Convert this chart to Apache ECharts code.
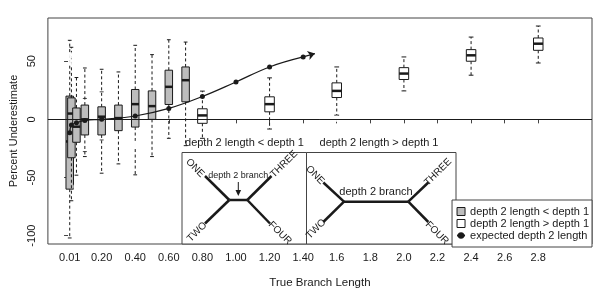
<!DOCTYPE html>
<html><head><meta charset="utf-8">
<script src="https://cdn.jsdelivr.net/npm/echarts@6/dist/echarts.min.js"></script>
<style>html,body{margin:0;padding:0;background:#fff}#c{width:600px;height:300px}</style>
</head><body><div id="c"></div>
<script>
// ---- axis ticks / labels ----
const xTickValues = [0.01,0.02,0.05,0.1,0.2,0.4,0.6,0.8,1.0,1.2,1.4,1.6,1.8,2.0,2.2,2.4,2.6,2.8];
const xLabelValues = [0.01,0.2,0.4,0.6,0.8,1.0,1.2,1.4,1.6,1.8,2.0,2.2,2.4,2.6,2.8];
const xLabelTexts = ["0.01","0.20","0.40","0.60","0.80","1.00","1.20","1.40","1.6","1.8","2.0","2.2","2.4","2.6","2.8"];
const yTickValues = [-100,-50,0,50];

// ---- gray boxes: depth 2 length < depth 1 ----
const grayX    = [0.01, 0.02, 0.05, 0.1, 0.2, 0.3, 0.4, 0.5, 0.6, 0.7];
const grayLow  = [-102, -70, -48, -32, -46.3, -38.3, -47.7, -32, -16.3, -22.6];
const grayQ1   = [-60, -33, -19.7, -13.4, -13.4, -9.7, -6.6, 0, 12.8, 15.1];
const grayMed  = [-19, 5, -6.3, 0, 2.3, 1.1, 13.1, 11.4, 28, 33.7];
const grayQ3   = [20, 18.5, 9.8, 12.3, 10.8, 12.3, 25.7, 24.5, 42.3, 45.1];
const grayHigh = [68, 62, 36, 44.2, 43.1, 40.8, 63.7, 55.7, 68.5, 66.5];
const grayOutX = [0.02, 0.02, 0.05, 0.05, 0.05, 0.2, 0.3, 0.4, 0.4, 0.4, 0.5, 0.5, 0.5, 0.6, 0.6, 0.6, 0.7];
const grayOutY = [55, 49, 43, -58, -65, 49.4, 47.1, -21.2, -22.6, -68.6, -37.7, -44, -45.7, -36.3, -43.4, -44.5, -56.9];
const extraCapX = [0.1, 0.1, 0.2, 0.2];
const extraCapY = [18, -27.7, 23.7, -17.7];

// ---- white boxes: depth 2 length > depth 1 ----
const whiteX    = [0.8, 1.2, 1.6, 2.0, 2.4, 2.8];
const whiteLow  = [-16.3, -8.3, 3.6, 24.5, 38, 48.5];
const whiteQ1   = [-3.4, 6.5, 18.8, 34.3, 50, 59.4];
const whiteMed  = [3.4, 13.1, 24.5, 39.4, 55.1, 65.1];
const whiteQ3   = [9.1, 19.4, 31.4, 44.5, 60, 70];
const whiteHigh = [24.3, 35.7, 45.1, 53.7, 70.8, 80.3];
const whiteOutX = [0.8, 1.6, 2.0, 2.0, 2.4];
const whiteOutY = [-24, 0.5, 20, 14.3, 75.7];

// ---- expected depth 2 length ----
const expX = [0.01, 0.02, 0.05, 0.1, 0.2, 0.4, 0.6, 0.8, 1.0, 1.2, 1.4];
const expY = [-11.4, -4.9, -2.9, -0.9, 0, 2.9, 9.4, 19.7, 32.2, 45.1, 53.7];
const expArrowEnd = [1.47, 56.6];

const FONT = 'Liberation Sans';
const INK = '#1a1a1a';
const AXC = '#444';

function boxRenderer(width, fill) {
  return function (params, api) {
    const x = api.value(0);
    const pLo = api.coord([x, api.value(1)]);
    const pQ1 = api.coord([x, api.value(2)]);
    const pMed = api.coord([x, api.value(3)]);
    const pQ3 = api.coord([x, api.value(4)]);
    const pHi = api.coord([x, api.value(5)]);
    const cx = pMed[0], hw = width / 2, cw = width / 4;
    const dashed = {stroke: INK, lineWidth: 1, lineDash: [3, 2.5]};
    const solid = {stroke: INK, lineWidth: 1};
    return {type: 'group', children: [
      {type: 'line', shape: {x1: cx, y1: pQ3[1], x2: cx, y2: pHi[1]}, style: dashed},
      {type: 'line', shape: {x1: cx, y1: pQ1[1], x2: cx, y2: pLo[1]}, style: dashed},
      {type: 'line', shape: {x1: cx - cw, y1: pHi[1], x2: cx + cw, y2: pHi[1]}, style: solid},
      {type: 'line', shape: {x1: cx - cw, y1: pLo[1], x2: cx + cw, y2: pLo[1]}, style: solid},
      {type: 'rect', shape: {x: cx - hw, y: pQ3[1], width: width, height: pQ1[1] - pQ3[1]},
        style: {fill: fill, stroke: INK, lineWidth: 1}},
      {type: 'line', shape: {x1: cx - hw, y1: pMed[1], x2: cx + hw, y2: pMed[1]},
        style: {stroke: INK, lineWidth: 2.5}}
    ]};
  };
}

const grayData = grayX.map((x, i) => [x, grayLow[i], grayQ1[i], grayMed[i], grayQ3[i], grayHigh[i]]);
const whiteData = whiteX.map((x, i) => [x, whiteLow[i], whiteQ1[i], whiteMed[i], whiteQ3[i], whiteHigh[i]]);
const outData = grayOutX.map((x, i) => [x, grayOutY[i]]).concat(whiteOutX.map((x, i) => [x, whiteOutY[i]]));
const capData = extraCapX.map((x, i) => [x, extraCapY[i]]);
const expData = expX.map((x, i) => [x, expY[i]]);

const txt = (x, y, s, size, rot) => ({type: 'text', x: x, y: y, rotation: rot || 0, z: 100,
  style: {text: s, fontFamily: FONT, fontSize: size, fill: INK, align: 'center', verticalAlign: 'middle'}});
const seg = (x1, y1, x2, y2, w) => ({type: 'line', z: 100, shape: {x1, y1, x2, y2}, style: {stroke: INK, lineWidth: w}});
const Q = Math.PI / 4;

const graphics = [
  {type: 'rect', z: 99, shape: {x: 182, y: 152.5, width: 124.5, height: 91.5}, style: {fill: '#fff', stroke: AXC, lineWidth: 1}},
  {type: 'rect', z: 99, shape: {x: 306.5, y: 152.5, width: 149.5, height: 91.5}, style: {fill: '#fff', stroke: AXC, lineWidth: 1}},
  txt(244.5, 143, 'depth 2 length < depth 1', 11),
  txt(379, 143, 'depth 2 length > depth 1', 11),
  // tree 1
  seg(229.3, 200, 247.3, 200, 2.5),
  seg(229.3, 200, 205, 176, 2.5), seg(229.3, 200, 205, 223.5, 2.5),
  seg(247.3, 200, 271.5, 176, 2.5), seg(247.3, 200, 270, 223.5, 2.5),
  txt(195, 168, 'ONE', 10, -Q), txt(284, 164, 'THREE', 10, Q),
  txt(197, 232, 'TWO', 10, Q), txt(280, 233, 'FOUR', 10, -Q),
  txt(238.3, 176, 'depth 2 branch', 9),
  seg(238.3, 182, 238.3, 194, 1),
  {type: 'polygon', z: 100, shape: {points: [[235.5, 190], [241.1, 190], [238.3, 196]]}, style: {fill: INK}},
  // tree 2
  seg(344, 201.7, 408.3, 201.7, 2.5),
  seg(344, 201.7, 323.3, 182.5, 2.5), seg(344, 201.7, 323.3, 222, 2.5),
  seg(408.3, 201.7, 428.3, 182.5, 2.5), seg(408.3, 201.7, 428.3, 222, 2.5),
  txt(315, 175, 'ONE', 10, -Q), txt(438, 172, 'THREE', 10, Q),
  txt(316, 229, 'TWO', 10, Q), txt(437, 233, 'FOUR', 10, -Q),
  txt(376, 191.5, 'depth 2 branch', 11)
];

const chart = echarts.init(document.getElementById('c'), null, {renderer: 'canvas'});
chart.setOption({
  animation: false,
  backgroundColor: '#fff',
  textStyle: {fontFamily: FONT},
  grid: {left: 40, right: 8, top: 18, bottom: 56, show: true, borderColor: AXC, borderWidth: 1, backgroundColor: 'transparent'},
  xAxis: {
    type: 'value', min: -0.12, max: 3.12,
    splitLine: {show: false}, axisLine: {show: false},
    axisTick: {show: true, inside: false, length: 4, lineStyle: {color: AXC}, customValues: xTickValues},
    axisLabel: {fontSize: 11, color: INK, margin: 8, customValues: xLabelValues,
      formatter: v => { const i = xLabelValues.findIndex(t => Math.abs(t - v) < 1e-9); return i >= 0 ? xLabelTexts[i] : ''; }},
    name: 'True Branch Length', nameLocation: 'middle', nameGap: 33,
    nameTextStyle: {fontSize: 11.5, color: INK}
  },
  yAxis: {
    type: 'value', min: -107.2, max: 87.2,
    splitLine: {show: false}, axisLine: {show: false},
    axisTick: {show: true, inside: false, length: 4, lineStyle: {color: AXC}, customValues: yTickValues},
    axisLabel: {fontSize: 11, color: INK, rotate: 90, margin: 10, customValues: yTickValues},
    name: 'Percent Underestimate', nameLocation: 'middle', nameGap: 25,
    nameTextStyle: {fontSize: 11, color: INK}
  },
  legend: {
    orient: 'vertical', right: 8, top: 200, itemGap: 1, itemWidth: 8, itemHeight: 8,
    padding: [6, 3, 6, 4], borderColor: AXC, borderWidth: 1, backgroundColor: '#fff', borderRadius: 0,
    textStyle: {fontSize: 11, color: INK, lineHeight: 10, fontFamily: FONT},
    selectedMode: false, z: 120,
    data: [
      {name: 'depth 2 length < depth 1', icon: 'path://M0,0L8,0L8,8L0,8Z', itemStyle: {color: '#bdbdbd', borderColor: INK, borderWidth: 1}},
      {name: 'depth 2 length > depth 1', icon: 'path://M0,0L8,0L8,8L0,8Z', itemStyle: {color: '#fff', borderColor: INK, borderWidth: 1}},
      {name: 'expected depth 2 length'}
    ]
  },
  graphic: graphics,
  series: [
    {type: 'custom', name: 'depth 2 length < depth 1', renderItem: boxRenderer(7.5, '#bdbdbd'),
      encode: {x: 0, y: [1, 2, 3, 4, 5]}, data: grayData, z: 3, itemStyle: {color: '#bdbdbd'},
      markLine: {silent: true, symbol: ['none', 'none'], label: {show: false},
        lineStyle: {color: INK, width: 1, type: 'solid'}, data: [{yAxis: 0}]}},
    {type: 'custom', name: 'depth 2 length > depth 1', renderItem: boxRenderer(9.5, '#ffffff'),
      encode: {x: 0, y: [1, 2, 3, 4, 5]}, data: whiteData, z: 3, itemStyle: {color: '#fff'}},
    {type: 'scatter', name: 'outliers', data: outData, symbol: 'emptyCircle', symbolSize: 4.5,
      itemStyle: {color: '#fff', borderColor: INK, borderWidth: 1}, z: 4},
    {type: 'scatter', name: 'caps', data: capData, symbol: 'rect', symbolSize: [4, 1],
      itemStyle: {color: INK}, z: 4},
    {type: 'line', name: 'expected depth 2 length', data: expData, smooth: 0.4,
      symbol: 'circle', symbolSize: 5, showSymbol: true,
      lineStyle: {color: INK, width: 1.2}, itemStyle: {color: INK}, z: 5,
      markLine: {silent: true, symbol: ['none', 'arrow'], symbolSize: 7, label: {show: false},
        lineStyle: {color: INK, width: 1.2, type: 'solid'},
        data: [[{coord: expData[expData.length - 1]}, {coord: expArrowEnd}]]}}
  ]
});
</script></body></html>
